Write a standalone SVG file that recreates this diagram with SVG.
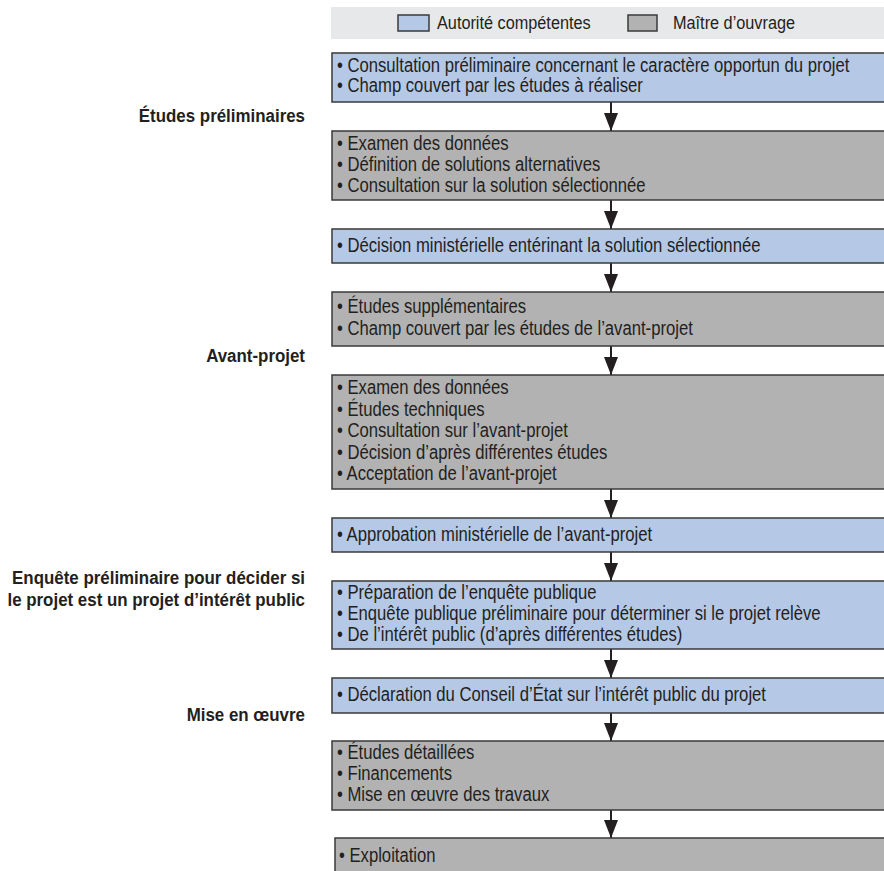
<svg xmlns="http://www.w3.org/2000/svg" width="884" height="871" viewBox="0 0 884 871">
  <style>
    .auth { fill: #b5c8e6; stroke: #3a3a3a; stroke-width: 1.5; }
    .owner { fill: #b2b2b2; stroke: #3a3a3a; stroke-width: 1.5; }
    .band { fill: #e7e8e9; }
    .t { font-family: "Liberation Sans", Arial, sans-serif; font-size: 19.5px; fill: #231f20; }
    .lg { font-family: "Liberation Sans", Arial, sans-serif; font-size: 18.5px; fill: #231f20; }
    .phase { font-family: "Liberation Sans", Arial, sans-serif; font-size: 19px; font-weight: bold; fill: #231f20; text-anchor: end; }
    .flow { stroke: #231f20; stroke-width: 2; fill: none; marker-end: url(#head); }
  </style>
  <defs>
    <marker id="head" markerUnits="userSpaceOnUse" viewBox="0 -7 18 14" refX="18" refY="0" markerWidth="18" markerHeight="14" orient="auto">
      <path d="M0,-7 L18,0 L0,7 Z" fill="#231f20"/>
    </marker>
  </defs>
  <rect width="884" height="871" fill="#ffffff"/>

  <!-- legend -->
  <g id="legend">
    <rect class="band" x="331" y="7" width="560" height="32"/>
    <rect class="auth" x="398" y="15" width="31" height="16"/>
    <g transform="translate(437 0) scale(0.88 1)"><text class="lg" x="0" y="29">Autorité compétentes</text></g>
    <rect class="owner" x="628" y="15" width="29" height="16"/>
    <g transform="translate(673 0) scale(0.88 1)"><text class="lg" x="0" y="29">Maître d’ouvrage</text></g>
  </g>

  <!-- phase labels (right-aligned against the flow column) -->
  <g id="phases">
    <g transform="translate(305 0) scale(0.89 1)">
      <text class="phase" x="0" y="122">Études préliminaires</text>
      <text class="phase" x="0" y="362">Avant-projet</text>
      <text class="phase" x="0" y="584">Enquête préliminaire pour décider si</text>
      <text class="phase" x="0" y="606">le projet est un projet d’intérêt public</text>
      <text class="phase" x="0" y="721">Mise en œuvre</text>
    </g>
  </g>

  <!-- connectors -->
  <g id="connectors">
    <line class="flow" x1="611" y1="102" x2="611" y2="131"/>
    <line class="flow" x1="611" y1="200" x2="611" y2="229"/>
    <line class="flow" x1="611" y1="263" x2="611" y2="292"/>
    <line class="flow" x1="611" y1="346" x2="611" y2="375"/>
    <line class="flow" x1="611" y1="489" x2="611" y2="518"/>
    <line class="flow" x1="611" y1="552" x2="611" y2="581"/>
    <line class="flow" x1="611" y1="649" x2="611" y2="678"/>
    <line class="flow" x1="611" y1="713" x2="611" y2="741"/>
    <line class="flow" x1="611" y1="810" x2="611" y2="838"/>
  </g>

  <!-- steps -->
  <g id="step1">
    <rect class="auth" x="332" y="53" width="600" height="49"/>
    <g transform="translate(337 0) scale(0.855 1)">
      <text class="t" x="0" y="72">• Consultation préliminaire concernant le caractère opportun du projet</text>
      <text class="t" x="0" y="92">• Champ couvert par les études à réaliser</text>
    </g>
  </g>
  <g id="step2">
    <rect class="owner" x="332" y="131" width="600" height="69"/>
    <g transform="translate(337 0) scale(0.855 1)">
      <text class="t" x="0" y="150">• Examen des données</text>
      <text class="t" x="0" y="171">• Définition de solutions alternatives</text>
      <text class="t" x="0" y="192">• Consultation sur la solution sélectionnée</text>
    </g>
  </g>
  <g id="step3">
    <rect class="auth" x="332" y="229" width="600" height="34"/>
    <g transform="translate(337 0) scale(0.855 1)">
      <text class="t" x="0" y="252">• Décision ministérielle entérinant la solution sélectionnée</text>
    </g>
  </g>
  <g id="step4">
    <rect class="owner" x="332" y="292" width="600" height="54"/>
    <g transform="translate(337 0) scale(0.855 1)">
      <text class="t" x="0" y="313">• Études supplémentaires</text>
      <text class="t" x="0" y="335">• Champ couvert par les études de l’avant-projet</text>
    </g>
  </g>
  <g id="step5">
    <rect class="owner" x="332" y="375" width="600" height="114"/>
    <g transform="translate(337 0) scale(0.855 1)">
      <text class="t" x="0" y="394">• Examen des données</text>
      <text class="t" x="0" y="416">• Études techniques</text>
      <text class="t" x="0" y="437">• Consultation sur l’avant-projet</text>
      <text class="t" x="0" y="459">• Décision d’après différentes études</text>
      <text class="t" x="0" y="480">• Acceptation de l’avant-projet</text>
    </g>
  </g>
  <g id="step6">
    <rect class="auth" x="332" y="518" width="600" height="34"/>
    <g transform="translate(337 0) scale(0.855 1)">
      <text class="t" x="0" y="541">• Approbation ministérielle de l’avant-projet</text>
    </g>
  </g>
  <g id="step7">
    <rect class="auth" x="332" y="581" width="600" height="68"/>
    <g transform="translate(337 0) scale(0.855 1)">
      <text class="t" x="0" y="599">• Préparation de l’enquête publique</text>
      <text class="t" x="0" y="620">• Enquête publique préliminaire pour déterminer si le projet relève</text>
      <text class="t" x="0" y="641">• De l’intérêt public (d’après différentes études)</text>
    </g>
  </g>
  <g id="step8">
    <rect class="auth" x="332" y="678" width="600" height="35"/>
    <g transform="translate(337 0) scale(0.855 1)">
      <text class="t" x="0" y="701">• Déclaration du Conseil d’État sur l’intérêt public du projet</text>
    </g>
  </g>
  <g id="step9">
    <rect class="owner" x="332" y="741" width="600" height="69"/>
    <g transform="translate(337 0) scale(0.855 1)">
      <text class="t" x="0" y="759">• Études détaillées</text>
      <text class="t" x="0" y="780">• Financements</text>
      <text class="t" x="0" y="801">• Mise en œuvre des travaux</text>
    </g>
  </g>
  <g id="step10">
    <rect class="owner" x="335" y="838" width="600" height="50"/>
    <g transform="translate(339 0) scale(0.855 1)">
      <text class="t" x="0" y="862">• Exploitation</text>
    </g>
  </g>
</svg>
